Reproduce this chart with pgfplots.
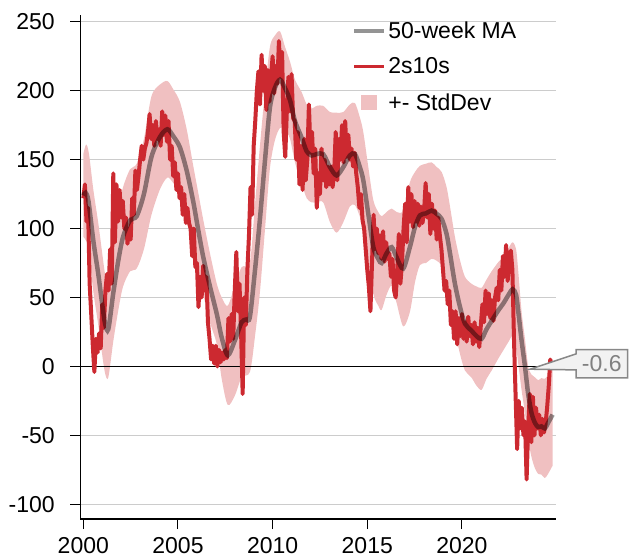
\documentclass[border=0pt]{standalone}
\usepackage{fontspec}
\setmainfont{Liberation Sans}
\usepackage{pgfplots}
\pgfplotsset{compat=1.18}
\usepackage{pgfplotstable}
\usepgfplotslibrary{fillbetween}
\usetikzlibrary{shapes.callouts,calc}
\definecolor{sred}{RGB}{204,41,48}
\definecolor{band}{RGB}{240,192,193}
\definecolor{gridc}{RGB}{204,204,204}
\definecolor{callg}{RGB}{136,136,136}
\definecolor{callf}{RGB}{242,242,242}
\newcommand{\cf}{\fontsize{23bp}{27bp}\selectfont}

\pgfplotstableread[row sep=\\]{
x y\\
2000.000 122\\ 2000.083 132\\ 2000.167 105\\ 2000.250 115\\ 2000.333 60\\ 2000.417 38\\ 2000.500 15\\ 2000.583 -4\\ 2000.667 20\\ 2000.750 10\\ 2000.833 24\\ 2000.917 13\\
2001.000 45\\ 2001.083 28\\ 2001.167 55\\ 2001.250 67\\ 2001.333 55\\ 2001.417 85\\ 2001.500 60\\ 2001.583 140\\ 2001.667 90\\ 2001.750 132\\ 2001.833 105\\ 2001.917 128\\
2002.000 108\\ 2002.083 120\\ 2002.167 100\\ 2002.250 108\\ 2002.333 89\\ 2002.417 100\\ 2002.500 92\\ 2002.583 122\\ 2002.667 110\\ 2002.750 142\\ 2002.833 128\\ 2002.917 138\\
2003.000 150\\ 2003.083 160\\ 2003.167 150\\ 2003.250 158\\ 2003.333 162\\ 2003.417 170\\ 2003.500 183\\ 2003.583 165\\ 2003.667 175\\ 2003.750 160\\ 2003.833 178\\ 2003.917 165\\
2004.000 172\\ 2004.083 160\\ 2004.167 185\\ 2004.250 168\\ 2004.333 182\\ 2004.417 163\\ 2004.500 178\\ 2004.583 150\\ 2004.667 160\\ 2004.750 138\\ 2004.833 148\\ 2004.917 128\\
2005.000 140\\ 2005.083 122\\ 2005.167 130\\ 2005.250 110\\ 2005.333 125\\ 2005.417 104\\ 2005.500 115\\ 2005.583 104\\ 2005.667 100\\ 2005.750 80\\ 2005.833 100\\ 2005.917 72\\
2006.000 75\\ 2006.083 43\\ 2006.167 65\\ 2006.250 50\\ 2006.333 73\\ 2006.417 55\\ 2006.500 65\\ 2006.583 32\\ 2006.667 20\\ 2006.750 5\\ 2006.833 15\\ 2006.917 2\\
2007.000 15\\ 2007.083 0\\ 2007.167 12\\ 2007.250 3\\ 2007.333 10\\ 2007.417 5\\ 2007.500 12\\ 2007.583 6\\ 2007.667 35\\ 2007.750 18\\ 2007.833 38\\ 2007.917 20\\
2008.000 55\\ 2008.083 83\\ 2008.167 40\\ 2008.250 60\\ 2008.333 25\\ 2008.417 -20\\ 2008.500 50\\ 2008.583 30\\ 2008.667 70\\ 2008.750 95\\ 2008.833 130\\ 2008.917 110\\
2009.000 160\\ 2009.083 178\\ 2009.167 200\\ 2009.250 214\\ 2009.333 190\\ 2009.417 226\\ 2009.500 200\\ 2009.583 218\\ 2009.667 186\\ 2009.750 215\\ 2009.833 192\\ 2009.917 210\\
2010.000 225\\ 2010.083 198\\ 2010.167 218\\ 2010.250 205\\ 2010.333 236\\ 2010.417 210\\ 2010.500 228\\ 2010.583 170\\ 2010.667 152\\ 2010.750 185\\ 2010.833 210\\ 2010.917 185\\
2011.000 212\\ 2011.083 180\\ 2011.167 178\\ 2011.250 150\\ 2011.333 170\\ 2011.417 132\\ 2011.500 160\\ 2011.583 128\\ 2011.667 165\\ 2011.750 135\\ 2011.833 150\\ 2011.917 190\\
2012.000 155\\ 2012.083 170\\ 2012.167 140\\ 2012.250 158\\ 2012.333 115\\ 2012.417 140\\ 2012.500 125\\ 2012.583 158\\ 2012.667 135\\ 2012.750 150\\ 2012.833 130\\ 2012.917 145\\
2013.000 132\\ 2013.083 145\\ 2013.167 130\\ 2013.250 140\\ 2013.333 170\\ 2013.417 135\\ 2013.500 165\\ 2013.583 150\\ 2013.667 175\\ 2013.750 148\\ 2013.833 178\\ 2013.917 152\\
2014.000 168\\ 2014.083 150\\ 2014.167 158\\ 2014.250 145\\ 2014.333 155\\ 2014.417 140\\ 2014.500 130\\ 2014.583 115\\ 2014.667 125\\ 2014.750 106\\ 2014.833 100\\ 2014.917 85\\
2015.000 70\\ 2015.083 58\\ 2015.167 40\\ 2015.250 75\\ 2015.333 110\\ 2015.417 85\\ 2015.500 100\\ 2015.583 82\\ 2015.667 95\\ 2015.750 78\\ 2015.833 98\\ 2015.917 76\\
2016.000 90\\ 2016.083 78\\ 2016.167 82\\ 2016.250 65\\ 2016.333 78\\ 2016.417 55\\ 2016.500 50\\ 2016.583 70\\ 2016.667 96\\ 2016.750 60\\ 2016.833 75\\ 2016.917 100\\
2017.000 118\\ 2017.083 90\\ 2017.167 130\\ 2017.250 105\\ 2017.333 125\\ 2017.417 101\\ 2017.500 120\\ 2017.583 105\\ 2017.667 118\\ 2017.750 102\\ 2017.833 116\\ 2017.917 104\\
2018.000 112\\ 2018.083 133\\ 2018.167 108\\ 2018.250 125\\ 2018.333 96\\ 2018.417 118\\ 2018.500 100\\ 2018.583 113\\ 2018.667 92\\ 2018.750 108\\ 2018.833 95\\ 2018.917 85\\
2019.000 70\\ 2019.083 55\\ 2019.167 62\\ 2019.250 45\\ 2019.333 55\\ 2019.417 30\\ 2019.500 40\\ 2019.583 20\\ 2019.667 40\\ 2019.750 16\\ 2019.833 35\\ 2019.917 22\\
2020.000 38\\ 2020.083 20\\ 2020.167 32\\ 2020.250 18\\ 2020.333 36\\ 2020.417 22\\ 2020.500 30\\ 2020.583 16\\ 2020.667 32\\ 2020.750 18\\ 2020.833 28\\ 2020.917 14\\
2021.000 30\\ 2021.083 45\\ 2021.167 32\\ 2021.250 55\\ 2021.333 38\\ 2021.417 53\\ 2021.500 35\\ 2021.583 48\\ 2021.667 33\\ 2021.750 50\\ 2021.833 57\\ 2021.917 48\\
2022.000 70\\ 2022.083 55\\ 2022.167 80\\ 2022.250 65\\ 2022.333 88\\ 2022.417 62\\ 2022.500 78\\ 2022.583 84\\ 2022.667 70\\ 2022.750 20\\ 2022.833 -20\\ 2022.917 -60\\
2023.000 -25\\ 2023.083 -45\\ 2023.167 -30\\ 2023.250 -50\\ 2023.333 -40\\ 2023.417 -82\\ 2023.500 -45\\ 2023.583 -20\\ 2023.667 -55\\ 2023.750 -22\\ 2023.833 -50\\ 2023.917 -30\\
2024.000 -45\\ 2024.083 -35\\ 2024.167 -50\\ 2024.250 -38\\ 2024.333 -48\\ 2024.417 -42\\ 2024.500 -30\\ 2024.583 -15\\ 2024.667 5\\ 2024.750 -0.6\\
}\redtab

\pgfplotstableread[row sep=\\]{
x y\\
2000.00 124\\ 2000.12 126\\ 2000.27 120\\ 2000.53 91\\ 2000.79 67\\ 2000.97 48\\ 2001.15 31\\ 2001.32 27\\ 2001.58 53\\ 2001.85 77\\
2002.10 94\\ 2002.47 106\\ 2002.82 109\\ 2003.20 125\\ 2003.60 152\\ 2004.05 166.5\\ 2004.44 172\\ 2004.75 167\\ 2005.10 159\\ 2005.46 142\\
2005.80 120\\ 2006.07 99\\ 2006.34 79\\ 2006.69 58\\ 2007.05 38\\ 2007.31 21\\ 2007.63 8\\ 2008.01 19\\ 2008.36 32\\ 2008.60 34\\
2008.80 36\\ 2009.07 70\\ 2009.33 107\\ 2009.60 150\\ 2009.86 188\\ 2010.12 202\\ 2010.39 208\\ 2010.65 202\\ 2010.92 193\\ 2011.18 178\\
2011.53 166\\ 2011.80 156\\ 2012.06 153\\ 2012.32 154\\ 2012.67 154\\ 2013.03 144.5\\ 2013.38 138.5\\ 2013.73 144.5\\ 2014.08 153\\ 2014.35 154\\
2014.61 144.5\\ 2014.79 135\\ 2015.05 111\\ 2015.32 86.5\\ 2015.58 78\\ 2015.76 75\\ 2016.02 82\\ 2016.29 86.5\\ 2016.55 79\\ 2016.90 71\\
2017.25 86.5\\ 2017.52 101\\ 2017.78 109.5\\ 2018.10 111\\ 2018.40 113\\ 2018.66 110.7\\ 2018.93 107\\ 2019.19 96\\ 2019.37 82\\ 2019.63 60\\
2019.90 43\\ 2020.16 31\\ 2020.50 26\\ 2020.77 22\\ 2021.04 20\\ 2021.30 27\\ 2021.57 33\\ 2021.92 40.6\\ 2022.18 45.5\\ 2022.45 51.6\\
2022.68 56\\ 2022.86 52\\ 2022.97 40.6\\ 2023.15 19\\ 2023.33 0\\ 2023.50 -20\\ 2023.68 -34\\ 2023.86 -41\\ 2024.03 -44\\ 2024.20 -43.5\\
2024.38 -45\\ 2024.55 -41\\ 2024.79 -35\\
}\matab

\pgfplotstableread[row sep=\\]{
x lo hi\\
2000.00 94 154\\ 2000.15 91 161\\ 2000.30 82 154\\ 2000.53 54 128\\ 2000.79 30 104\\ 2000.97 11 85\\ 2001.15 -5 67\\ 2001.32 -8 62\\
2001.58 18 88\\ 2001.85 41 113\\ 2002.10 58 130\\ 2002.47 69 143\\ 2002.82 71 147\\ 2003.20 85 165\\ 2003.60 110 196\\ 2004.05 128.5 204.5\\
2004.44 137 207\\ 2004.75 133 201\\ 2005.10 126 192\\ 2005.46 112 172\\ 2005.80 92 146\\ 2006.07 72 126\\ 2006.34 52 106\\ 2006.69 32 82\\
2007.05 16 60\\ 2007.31 -9 50\\ 2007.63 -28 44\\ 2008.01 -21 59\\ 2008.36 -8 72\\ 2008.80 -4 76\\ 2009.07 22 118\\ 2009.33 54 160\\
2009.60 100 200\\ 2009.86 144 232\\ 2010.12 164 240\\ 2010.39 173 243\\ 2010.65 172 232\\ 2010.92 165 221\\ 2011.18 148 208\\ 2011.53 133 199\\
2011.80 122 190\\ 2012.06 119 187\\ 2012.32 119 189\\ 2012.67 119 189\\ 2013.03 104.5 184.5\\ 2013.38 97 184\\ 2013.73 104.5 184.5\\ 2014.08 116 190\\
2014.35 117 191\\ 2014.61 108.5 180.5\\ 2014.79 100 170\\ 2015.05 77 145\\ 2015.32 52.5 120.5\\ 2015.58 44 112\\ 2015.76 41 109\\ 2016.02 52 112\\
2016.29 58.5 114.5\\ 2016.55 46 112\\ 2016.90 29 113\\ 2017.25 39.5 133.5\\ 2017.52 61 141\\ 2017.78 73.5 145.5\\ 2018.10 75 147\\ 2018.40 78 148\\
2018.66 76.7 144.7\\ 2018.93 73 141\\ 2019.19 62 130\\ 2019.37 48 116\\ 2019.63 26 94\\ 2019.90 9 77\\ 2020.16 -3 65\\ 2020.50 -8 60\\
2020.77 -14 58\\ 2021.04 -17 57\\ 2021.30 -9 63\\ 2021.57 -3 69\\ 2021.92 5.6 75.6\\ 2022.18 11.5 79.5\\ 2022.45 17.6 85.6\\ 2022.68 22 90\\
2022.86 14 85\\ 2022.97 2.6 70\\ 2023.15 -17 40\\ 2023.33 -34 20\\ 2023.50 -53 0\\ 2023.68 -66 -6\\ 2023.86 -74 -8\\ 2024.03 -78 -10\\
2024.20 -78.5 -8.5\\ 2024.38 -81 -9\\ 2024.55 -78 -6\\ 2024.79 -72 0\\
}\bandtab

\begin{document}
\begin{tikzpicture}
\begin{axis}[
  scale only axis, width=475.7bp, height=504bp,
  xmin=1999.84, xmax=2024.97, ymin=-110.7, ymax=254.9,
  axis lines=left, axis line style={-, line width=1.5bp, black},
  xtick={2000,2005,2010,2015,2020}, xticklabels={2000,2005,2010,2015,2020},
  ytick={-100,-50,0,50,100,150,200,250}, yticklabels={-100,-50,0,50,100,150,200,250},
  tick align=outside, major tick length=10bp,
  tick style={black, line width=1bp},
  ymajorgrids, grid style={gridc, line width=1bp},
  tick label style={font=\cf},
  yticklabel style={xshift=-12bp},
  xticklabel style={yshift=-5bp},
  clip=false,
  reverse legend,
  legend cell align=left,
  legend style={at={(rel axis cs:0.5705,0.991)}, anchor=north west, draw=none, fill=none,
    inner sep=0pt, row sep=14bp, font=\cf, nodes={inner sep=2bp}},
]
\addplot[name path=up, draw=none, smooth, forget plot] table[x=x, y=hi] {\bandtab};
\addplot[name path=lo, draw=none, smooth, forget plot] table[x=x, y=lo] {\bandtab};
\addplot[fill=band, draw=none, legend image code/.code={\fill[band] (7bp,-7.5bp) rectangle (23bp,7.5bp);}] fill between[of=up and lo];
\addlegendentry{+- StdDev}
\addplot[black, line width=1.6bp, forget plot] coordinates {(1999.84,0) (2024.97,0)};
\addplot[sred, line width=4bp, line join=round, legend image code/.code={\draw[sred, line width=3.2bp] (0bp,0bp) -- (30bp,0bp);}] table[x=x, y=y] {\redtab};
\addlegendentry{2s10s}
\addplot[black, opacity=0.42, line width=4.5bp, smooth, legend image code/.code={\draw[black, opacity=0.42, line width=4.5bp] (0bp,0bp) -- (30bp,0bp);}] table[x=x, y=y] {\matab};
\addlegendentry{50-week MA}
\node[rectangle callout, draw=callg, line width=1.5bp, fill=callf, text=gray, font=\cf,
  minimum width=51.6bp, minimum height=28.4bp, inner sep=0pt,
  callout relative pointer={(-45.8bp,-3.5bp)}, callout pointer width=16bp,
  xshift=45.8bp, yshift=3.5bp] at (axis cs:2024.97,-0.6) {-0.6};
\end{axis}
\pgfresetboundingbox
\path[use as bounding box] ($(current axis.south west)+(-80.3bp,-39bp)$) rectangle ++(642bp,558bp);
\end{tikzpicture}
\end{document}
